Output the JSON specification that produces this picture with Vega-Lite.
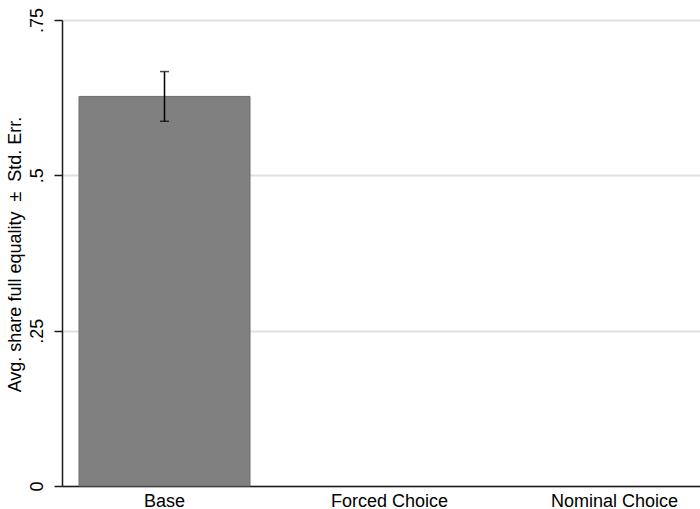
{
  "$schema": "https://vega.github.io/schema/vega-lite/v6.json",
  "autosize": {"type": "none"},
  "padding": {"left": 62, "top": 20, "right": 0, "bottom": 23},
  "width": 638,
  "height": 466,
  "background": "white",
  "config": {
    "view": {"stroke": null},
    "font": "Liberation Sans"
  },
  "data": {
    "values": [
      {"group": "Base", "mean": 0.627, "lo": 0.587, "hi": 0.667},
      {"group": "Forced Choice", "mean": null, "lo": null, "hi": null},
      {"group": "Nominal Choice", "mean": null, "lo": null, "hi": null}
    ]
  },
  "encoding": {
    "x": {
      "field": "group",
      "type": "nominal",
      "sort": ["Base", "Forced Choice", "Nominal Choice"],
      "scale": {"domain": ["Base", "Forced Choice", "Nominal Choice"], "paddingInner": 0.24, "paddingOuter": 0.0378, "align": 1},
      "axis": {
        "title": null,
        "labelAngle": 0,
        "labelFontSize": 18,
        "labelColor": "black",
        "labelPadding": 6,
        "ticks": false,
        "domainColor": "#1a1a1a",
        "domainWidth": 1.5,
        "grid": false
      }
    }
  },
  "layer": [
    {
      "mark": {"type": "bar", "color": "#808080", "stroke": "#6e6e6e", "strokeWidth": 1},
      "encoding": {
        "y": {
          "field": "mean",
          "type": "quantitative",
          "scale": {"domain": [0, 0.75], "nice": false, "zero": true},
          "axis": {
            "title": "Avg. share full equality\u00a0\u00a0±\u00a0\u00a0Std. Err.",
            "titleFontSize": 18,
            "titleFontWeight": "normal",
            "titleColor": "black",
            "titlePadding": 4,
            "titleY": 234,
            "values": [0, 0.25, 0.5, 0.75],
            "labelExpr": "datum.value == 0 ? '0' : slice(format(datum.value, '.2~f'), 1)",
            "labelAngle": -90,
            "labelAlign": "center",
            "labelBaseline": "bottom",
            "labelFontSize": 18,
            "labelColor": "black",
            "labelPadding": 8,
            "tickSize": 8,
            "tickColor": "#1a1a1a",
            "tickWidth": 1.5,
            "domainColor": "#1a1a1a",
            "domainWidth": 1.5,
            "grid": true,
            "gridColor": "#e0e0e0",
            "gridWidth": 2
          }
        }
      }
    },
    {
      "mark": {"type": "rule", "color": "black", "strokeWidth": 1.5},
      "encoding": {
        "y": {"field": "lo", "type": "quantitative"},
        "y2": {"field": "hi"}
      }
    },
    {
      "mark": {"type": "tick", "color": "black", "size": 9, "thickness": 1.5},
      "encoding": {
        "y": {"field": "lo", "type": "quantitative"}
      }
    },
    {
      "mark": {"type": "tick", "color": "black", "size": 9, "thickness": 1.5},
      "encoding": {
        "y": {"field": "hi", "type": "quantitative"}
      }
    }
  ]
}
